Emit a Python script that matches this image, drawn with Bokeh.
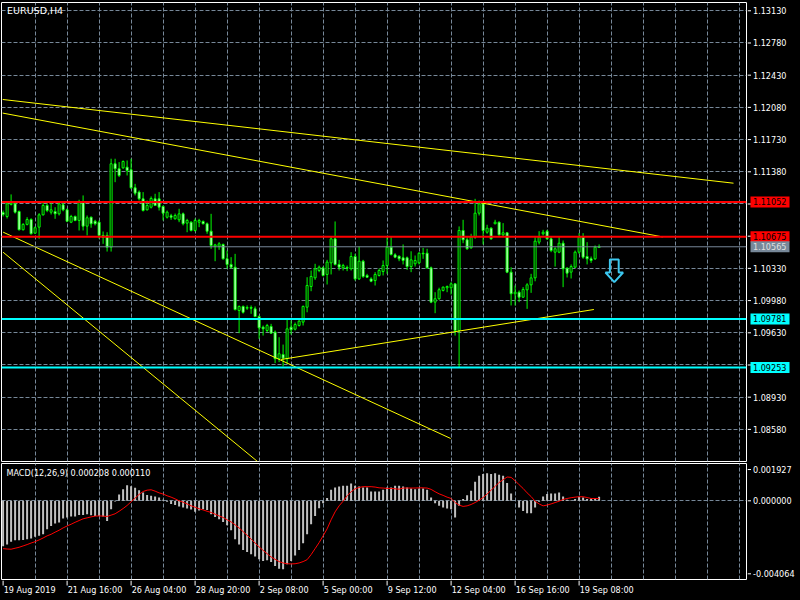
from bokeh.plotting import figure
from bokeh.models import (Range1d, FixedTicker, Span, Label, Grid,
                          ColumnDataSource, GlobalInlineStyleSheet)
from bokeh.core.properties import value
from bokeh.layouts import column, row
from bokeh.embed import file_html
from bokeh.resources import INLINE

# ---------------- data (EURUSD, H4) ----------------
opens = [1.10937,1.10894,1.11025,1.11032,1.10948,1.10750,1.10808,1.10861,1.10713,1.10778,
 1.10912,1.11014,1.10941,1.10948,1.10923,1.11021,1.10967,1.10832,1.10894,1.10851,
 1.11050,1.10789,1.10886,1.10843,1.10832,1.10688,1.10688,1.10560,1.11467,1.11413,
 1.11423,1.11430,1.11402,1.11206,1.11159,1.11086,1.10967,1.10995,1.11086,1.11086,
 1.11003,1.10886,1.10901,1.10869,1.10858,1.10923,1.10822,1.10832,1.10742,1.10832,
 1.10840,1.10815,1.10734,1.10571,1.10571,1.10590,1.10434,1.10373,1.10343,1.09872,
 1.09916,1.09897,1.09905,1.09890,1.09807,1.09691,1.09655,1.09698,1.09637,1.09348,
 1.09394,1.09348,1.09691,1.09669,1.09709,1.09746,1.09908,1.10133,1.10227,1.10307,
 1.10336,1.10264,1.10390,1.10651,1.10373,1.10336,1.10340,1.10326,1.10459,1.10216,
 1.10408,1.10253,1.10216,1.10198,1.10253,1.10296,1.10361,1.10560,1.10477,1.10463,
 1.10445,1.10445,1.10350,1.10380,1.10390,1.10495,1.10495,1.10336,1.09963,1.10000,
 1.10090,1.10119,1.10119,1.10162,1.09655,1.10742,1.10641,1.10554,1.10670,1.10930,
 1.11032,1.10723,1.10767,1.10815,1.10832,1.10695,1.10717,1.10289,1.10054,1.10071,
 1.10017,1.10097,1.10151,1.10227,1.10615,1.10706,1.10734,1.10651,1.10506,1.10506,
 1.10604,1.10332,1.10289,1.10343,1.10506,1.10670,1.10459,1.10434,1.10434,1.10557]
highs = [1.10959,1.11050,1.11134,1.11050,1.10959,1.10822,1.10886,1.10875,1.10786,1.10930,
 1.11050,1.11035,1.11050,1.10995,1.11050,1.11050,1.10981,1.10912,1.10905,1.11076,
 1.11123,1.10905,1.10894,1.10858,1.10851,1.10731,1.10723,1.11522,1.11522,1.11485,
 1.11503,1.11503,1.11522,1.11249,1.11177,1.11159,1.11068,1.11112,1.11141,1.11159,
 1.11014,1.10959,1.10923,1.10926,1.10978,1.10937,1.10869,1.10843,1.10872,1.10869,
 1.10851,1.10829,1.10923,1.10597,1.10615,1.10600,1.10524,1.10452,1.10488,1.09927,
 1.09927,1.09927,1.09927,1.09916,1.09818,1.09709,1.09727,1.09727,1.09655,1.09582,
 1.09502,1.09772,1.09764,1.09742,1.09774,1.09927,1.10234,1.10307,1.10380,1.10361,
 1.10350,1.10423,1.10670,1.10840,1.10423,1.10380,1.10361,1.10506,1.10488,1.10568,
 1.10423,1.10271,1.10234,1.10289,1.10329,1.10416,1.10670,1.10670,1.10495,1.10470,
 1.10590,1.10459,1.10516,1.10470,1.10506,1.10553,1.10543,1.10350,1.10071,1.10120,
 1.10133,1.10144,1.10180,1.10166,1.10786,1.10858,1.10670,1.10706,1.11086,1.11068,
 1.11050,1.10804,1.10778,1.10858,1.10840,1.10822,1.10723,1.10343,1.10144,1.10090,
 1.10126,1.10169,1.10271,1.10670,1.10734,1.10749,1.10749,1.10670,1.10560,1.10670,
 1.10633,1.10343,1.10373,1.10524,1.10713,1.10713,1.10615,1.10459,1.10579,1.10590]
lows = [1.10894,1.10872,1.11014,1.10926,1.10742,1.10742,1.10797,1.10699,1.10706,1.10652,
 1.10905,1.10941,1.10916,1.10869,1.10905,1.10951,1.10832,1.10822,1.10843,1.10742,
 1.10742,1.10688,1.10772,1.10797,1.10652,1.10597,1.10513,1.10513,1.11267,1.11322,
 1.11413,1.11340,1.11195,1.11123,1.11068,1.10948,1.10959,1.10981,1.11010,1.10959,
 1.10851,1.10872,1.10858,1.10861,1.10832,1.10797,1.10723,1.10731,1.10731,1.10778,
 1.10808,1.10706,1.10543,1.10408,1.10532,1.10426,1.10326,1.10326,1.09872,1.09626,
 1.09839,1.09879,1.09836,1.09800,1.09564,1.09600,1.09637,1.09619,1.09300,1.09311,
 1.09264,1.09293,1.09611,1.09655,1.09698,1.09709,1.09853,1.10082,1.10205,1.10289,
 1.10242,1.10155,1.10264,1.10362,1.10307,1.10307,1.10300,1.10307,1.10198,1.10205,
 1.10227,1.10227,1.10180,1.10144,1.10242,1.10253,1.10271,1.10470,1.10441,1.10408,
 1.10373,1.10314,1.10289,1.10350,1.10373,1.10434,1.10326,1.09952,1.09843,1.09989,
 1.10079,1.10071,1.10046,1.09600,1.09256,1.10604,1.10532,1.10543,1.10652,1.10905,
 1.10590,1.10706,1.10641,1.10810,1.10688,1.10670,1.10278,1.09927,1.09927,1.09963,
 1.10010,1.09890,1.10064,1.10190,1.10590,1.10688,1.10641,1.10506,1.10350,1.10495,
 1.10126,1.10231,1.10220,1.10336,1.10488,1.10434,1.10373,1.10390,1.10423,1.10554]
closes = [1.10916,1.11032,1.11039,1.10941,1.10750,1.10808,1.10861,1.10706,1.10772,1.10912,
 1.11014,1.10959,1.10967,1.10923,1.11032,1.10967,1.10843,1.10894,1.10851,1.11050,
 1.10789,1.10880,1.10815,1.10815,1.10688,1.10666,1.10560,1.11467,1.11413,1.11340,
 1.11492,1.11394,1.11206,1.11148,1.11086,1.10959,1.11014,1.11090,1.11014,1.10995,
 1.10930,1.10941,1.10886,1.10905,1.10923,1.10815,1.10851,1.10742,1.10851,1.10851,
 1.10815,1.10734,1.10579,1.10586,1.10597,1.10434,1.10373,1.10343,1.09883,1.09916,
 1.09853,1.09905,1.09897,1.09807,1.09684,1.09673,1.09709,1.09626,1.09348,1.09402,
 1.09354,1.09673,1.09662,1.09720,1.09756,1.09916,1.10144,1.10242,1.10325,1.10343,
 1.10253,1.10398,1.10651,1.10373,1.10343,1.10361,1.10332,1.10459,1.10216,1.10408,
 1.10242,1.10234,1.10190,1.10264,1.10307,1.10361,1.10560,1.10481,1.10452,1.10434,
 1.10416,1.10350,1.10423,1.10416,1.10495,1.10488,1.10336,1.09963,1.10000,1.10098,
 1.10126,1.10133,1.10162,1.09655,1.10742,1.10641,1.10543,1.10670,1.10930,1.11032,
 1.10742,1.10767,1.10651,1.10832,1.10695,1.10717,1.10289,1.10054,1.10071,1.10017,
 1.10101,1.10151,1.10227,1.10626,1.10670,1.10723,1.10651,1.10524,1.10543,1.10604,
 1.10326,1.10278,1.10350,1.10506,1.10670,1.10452,1.10434,1.10416,1.10560,1.10565]

macd_hist = [-0.00235,-0.00225,-0.00211,-0.00204,-0.00204,-0.00202,-0.00199,-0.00195,-0.00185,-0.00181,
 -0.00173,-0.00147,-0.00130,-0.00117,-0.00112,-0.00092,-0.00086,-0.00081,-0.00081,-0.00073,
 -0.00073,-0.00069,-0.00074,-0.00078,-0.00078,-0.00081,-0.00104,-0.00043,-0.00004,0.00033,
 0.00060,0.00080,0.00075,0.00068,0.00055,0.00043,0.00030,0.00026,0.00022,0.00017,
 0.00005,-0.00005,-0.00016,-0.00022,-0.00030,-0.00035,-0.00040,-0.00045,-0.00057,-0.00050,
 -0.00043,-0.00048,-0.00069,-0.00083,-0.00095,-0.00109,-0.00126,-0.00152,-0.00199,-0.00225,
 -0.00254,-0.00264,-0.00276,-0.00288,-0.00302,-0.00311,-0.00307,-0.00316,-0.00337,-0.00351,
 -0.00354,-0.00328,-0.00311,-0.00282,-0.00254,-0.00219,-0.00173,-0.00121,-0.00078,-0.00038,
 -0.00012,0.00014,0.00057,0.00069,0.00074,0.00078,0.00078,0.00090,0.00078,0.00074,
 0.00069,0.00069,0.00048,0.00048,0.00048,0.00057,0.00069,0.00069,0.00078,0.00078,
 0.00074,0.00069,0.00064,0.00060,0.00064,0.00064,0.00057,0.00017,-0.00012,-0.00026,
 -0.00035,-0.00040,-0.00043,-0.00086,-0.00026,0.00009,0.00029,0.00052,0.00098,0.00130,
 0.00138,0.00142,0.00138,0.00142,0.00135,0.00130,0.00092,0.00038,0.00002,-0.00035,
 -0.00052,-0.00064,-0.00064,-0.00035,-0.00005,0.00022,0.00035,0.00038,0.00038,0.00043,
 0.00022,0.00005,0.00003,0.00009,0.00021,0.00017,0.00009,0.00012,0.00014,0.000208]
macd_signal = [-0.00247,-0.00249,-0.00250,-0.00245,-0.00240,-0.00233,-0.00226,-0.00218,-0.00211,-0.00202,
 -0.00192,-0.00181,-0.00173,-0.00162,-0.00152,-0.00140,-0.00130,-0.00121,-0.00111,-0.00102,
 -0.00093,-0.00088,-0.00083,-0.00079,-0.00078,-0.00079,-0.00081,-0.00074,-0.00067,-0.00054,
 -0.00040,-0.00024,-0.00005,0.00014,0.00033,0.00048,0.00055,0.00057,0.00050,0.00041,
 0.00035,0.00026,0.00019,0.00010,0.00000,-0.00007,-0.00016,-0.00026,-0.00033,-0.00041,
 -0.00047,-0.00054,-0.00060,-0.00069,-0.00078,-0.00086,-0.00098,-0.00109,-0.00124,-0.00140,
 -0.00159,-0.00178,-0.00197,-0.00218,-0.00238,-0.00256,-0.00273,-0.00290,-0.00302,-0.00314,
 -0.00321,-0.00325,-0.00326,-0.00325,-0.00321,-0.00314,-0.00304,-0.00278,-0.00247,-0.00216,
 -0.00181,-0.00145,-0.00098,-0.00057,-0.00026,-0.00002,0.00026,0.00047,0.00062,0.00069,
 0.00073,0.00073,0.00073,0.00071,0.00067,0.00066,0.00064,0.00064,0.00062,0.00060,
 0.00066,0.00066,0.00066,0.00066,0.00067,0.00067,0.00066,0.00059,0.00047,0.00036,
 0.00028,0.00019,0.00012,-0.00009,-0.00022,-0.00029,-0.00026,-0.00019,-0.00009,0.00003,
 0.00017,0.00035,0.00055,0.00074,0.00095,0.00109,0.00123,0.00121,0.00104,0.00083,
 0.00064,0.00041,0.00022,-0.00002,-0.00016,-0.00026,-0.00022,-0.00016,-0.00009,-0.00002,
 0.00007,0.00012,0.00016,0.00019,0.00021,0.00021,0.00017,0.00012,0.00012,0.00011]

bars = list(range(len(closes)))
time_label_bars = [0, 16, 32, 48, 64, 80, 96, 112, 128, 144]
time_labels = ["19 Aug 2019", "21 Aug 16:00", "26 Aug 04:00", "28 Aug 20:00", "2 Sep 08:00",
               "5 Sep 00:00", "9 Sep 12:00", "12 Sep 04:00", "16 Sep 16:00", "19 Sep 08:00"]
price_ticks = [1.13130, 1.12780, 1.12430, 1.12080, 1.11730, 1.11380, 1.11030,
               1.10680, 1.10330, 1.09980, 1.09630, 1.09280, 1.08930, 1.08580]
resistance_levels = [1.11052, 1.10675]
support_levels = [1.09781, 1.09253]
bid_price = 1.10565
macd_max, macd_min = 0.001927, -0.004064
macd_last, signal_last = 0.000208, 0.000110
# trend lines: (bar0, price0, bar1, price1)
trend_lines = [(-0.1, 1.12166, 182.6, 1.11256),
               (-0.1, 1.12018, 164.9, 1.10672),
               (0.0, 1.10724, 111.9, 1.08481),
               (0.0, 1.10506, 63.6, 1.08231),
               (69.5, 1.09340, 147.7, 1.09883)]
arrow_bar, arrow_top, arrow_neck, arrow_tip = 152.8, 1.10426, 1.10285, 1.10180

# ---------------- styling ----------------
GRID = "#778899"
AXF = "DejaVu Sans Condensed, DejaVu Sans"
TF = "DejaVu Sans"
FS = "9px"
xr = Range1d(-0.4, 185.85)
vgrid = list(range(8, 186, 8))
PW, SW = 747, 53          # pane width, scale-strip width
MAIN_H, MACD_H, TIME_H = 462, 118, 20


def pane(height, yr, top, bottom):
    f = figure(width=PW, height=height, x_range=xr, y_range=yr,
               x_axis_location=None, y_axis_location=None, output_backend="svg",
               toolbar_location=None, background_fill_color="black", border_fill_color="black",
               outline_line_color="white", min_border_left=1, min_border_right=1,
               min_border_top=top, min_border_bottom=bottom)
    f.grid.visible = False
    return f


def strip(height, xr_, yr, top, bottom, width, left=0, right=0):
    f = figure(width=width, height=height, x_range=xr_, y_range=yr,
               x_axis_location=None, y_axis_location=None, output_backend="svg",
               toolbar_location=None, background_fill_color="black", border_fill_color="black",
               outline_line_color=None, min_border_left=left, min_border_right=right,
               min_border_top=top, min_border_bottom=bottom)
    f.grid.visible = False
    return f


# ---------------- price pane ----------------
p = pane(MAIN_H, Range1d(1.08231, 1.13220), 2, 1)
p.add_layout(Grid(dimension=0, ticker=FixedTicker(ticks=vgrid), grid_line_color=GRID,
                  grid_line_dash="4 2"))
p.add_layout(Grid(dimension=1, ticker=FixedTicker(ticks=price_ticks), grid_line_color=GRID,
                  grid_line_dash="4 2"))

src = ColumnDataSource(dict(
    x=bars, o=opens, h=highs, l=lows, c=closes,
    top=[max(a, b) for a, b in zip(opens, closes)],
    bot=[min(a, b) for a, b in zip(opens, closes)],
    fill=["black" if c >= o else "white" for o, c in zip(opens, closes)]))
p.segment(x0="x", y0="l", x1="x", y1="h", source=src, line_color="#00FF00", line_width=1)
p.vbar(x="x", top="top", bottom="bot", width=0.5, source=src, fill_color="fill",
       line_color="#00FF00", line_width=1)

p.segment(x0=[t[0] for t in trend_lines], y0=[t[1] for t in trend_lines],
          x1=[t[2] for t in trend_lines], y1=[t[3] for t in trend_lines],
          line_color="#FFFF00", line_width=1)

for lv in resistance_levels:
    p.add_layout(Span(location=lv, dimension="width", line_color="#FF0000", line_width=2))
for lv in support_levels:
    p.add_layout(Span(location=lv, dimension="width", line_color="#00FFFF", line_width=2))
p.add_layout(Span(location=bid_price, dimension="width", line_color=GRID, line_width=1))

b = arrow_bar
p.patch([b - 1.1, b + 1.1, b + 1.1, b + 2.2, b, b - 2.2, b - 1.1, b - 1.1],
        [arrow_top, arrow_top, arrow_neck, arrow_neck, arrow_tip, arrow_neck, arrow_neck, arrow_top],
        fill_alpha=0, line_color="#3CC8F0", line_width=2)

p.add_layout(Label(x=1.0, y=1.13133, text="EURUSD,H4", text_baseline="middle", text_color="white",
                   text_font_size="9.5px", text_font=TF))

# price scale strip
ps = strip(MAIN_H, Range1d(0, SW), p.y_range, 2, 1, SW)
ps.segment(x0=0, x1=3.5, y0=price_ticks, y1=price_ticks, line_color="white", line_width=1)
boxed = resistance_levels + support_levels + [bid_price]
shown = [t for t in price_ticks if min(abs(t - v) for v in boxed) > 0.0004]
ps.text(x=5.5, y=shown, text=[f"{t:.5f}" for t in shown], text_color="white",
        text_font=value(AXF), text_font_size=value(FS), text_align="left", text_baseline="middle")
box_fill = ["#FF0000"] * len(resistance_levels) + ["#00FFFF"] * len(support_levels) + [GRID]
box_text = ["black"] * (len(resistance_levels) + len(support_levels)) + ["#E0E0E0"]
ps.rect(x=22.5, y=boxed, width=39, height=11, height_units="screen", fill_color=box_fill,
        line_color=None)
ps.text(x=5.5, y=boxed, text=[f"{v:.5f}" for v in boxed], text_color=box_text,
        text_font=value(AXF), text_font_size=value(FS), text_align="left", text_baseline="middle")

# ---------------- MACD pane ----------------
p2 = pane(MACD_H, Range1d(macd_min, macd_max), 1, 1)
p2.add_layout(Grid(dimension=0, ticker=FixedTicker(ticks=vgrid), grid_line_color=GRID,
                   grid_line_dash="4 2"))
p2.add_layout(Grid(dimension=1, ticker=FixedTicker(ticks=[0]), grid_line_color=GRID,
                   grid_line_dash="4 2"))
p2.vbar(x=bars, top=macd_hist, bottom=0, width=0.5, fill_color="#C0C0C0", line_color=None)
p2.line(bars, macd_signal, line_color="#FF0000", line_width=1)
span = macd_max - macd_min
p2.add_layout(Label(x=0.85, y=macd_max - span * 0.084,
                    text=f"MACD(12,26,9) {macd_last:.6f} {signal_last:.6f}",
                    text_baseline="middle", text_color="white", text_font_size=FS, text_font=AXF))

ps2 = strip(MACD_H, Range1d(0, SW), p2.y_range, 1, 1, SW)
macd_tick_pos = [macd_max - span * 0.052, 0.0, macd_min + span * 0.049]
macd_tick_txt = [f"{macd_max:.6f}", "0.000000", f"{macd_min:.6f}"]
ps2.segment(x0=0, x1=3.5, y0=macd_tick_pos, y1=macd_tick_pos, line_color="white", line_width=1)
ps2.text(x=5.5, y=macd_tick_pos, text=macd_tick_txt, text_color="white",
         text_font=value(AXF), text_font_size=value(FS), text_align="left", text_baseline="middle")

# ---------------- time scale strip ----------------
pt = strip(TIME_H, xr, Range1d(0, TIME_H), 0, 0, PW, left=1, right=1)
pt.segment(x0=time_label_bars, x1=time_label_bars, y0=TIME_H, y1=TIME_H - 5,
           line_color="white", line_width=1)
pt.text(x=[t + 0.15 for t in time_label_bars], y=TIME_H - 9, text=time_labels,
        text_color="white", text_font=value(AXF), text_font_size=value(FS),
        text_align="left", text_baseline="middle")

layout = column(row(p, ps, spacing=0), row(p2, ps2, spacing=0), pt, spacing=0,
                stylesheets=[GlobalInlineStyleSheet(css="body{background:#000000;}")])
open("out.html", "w").write(file_html(layout, INLINE))
